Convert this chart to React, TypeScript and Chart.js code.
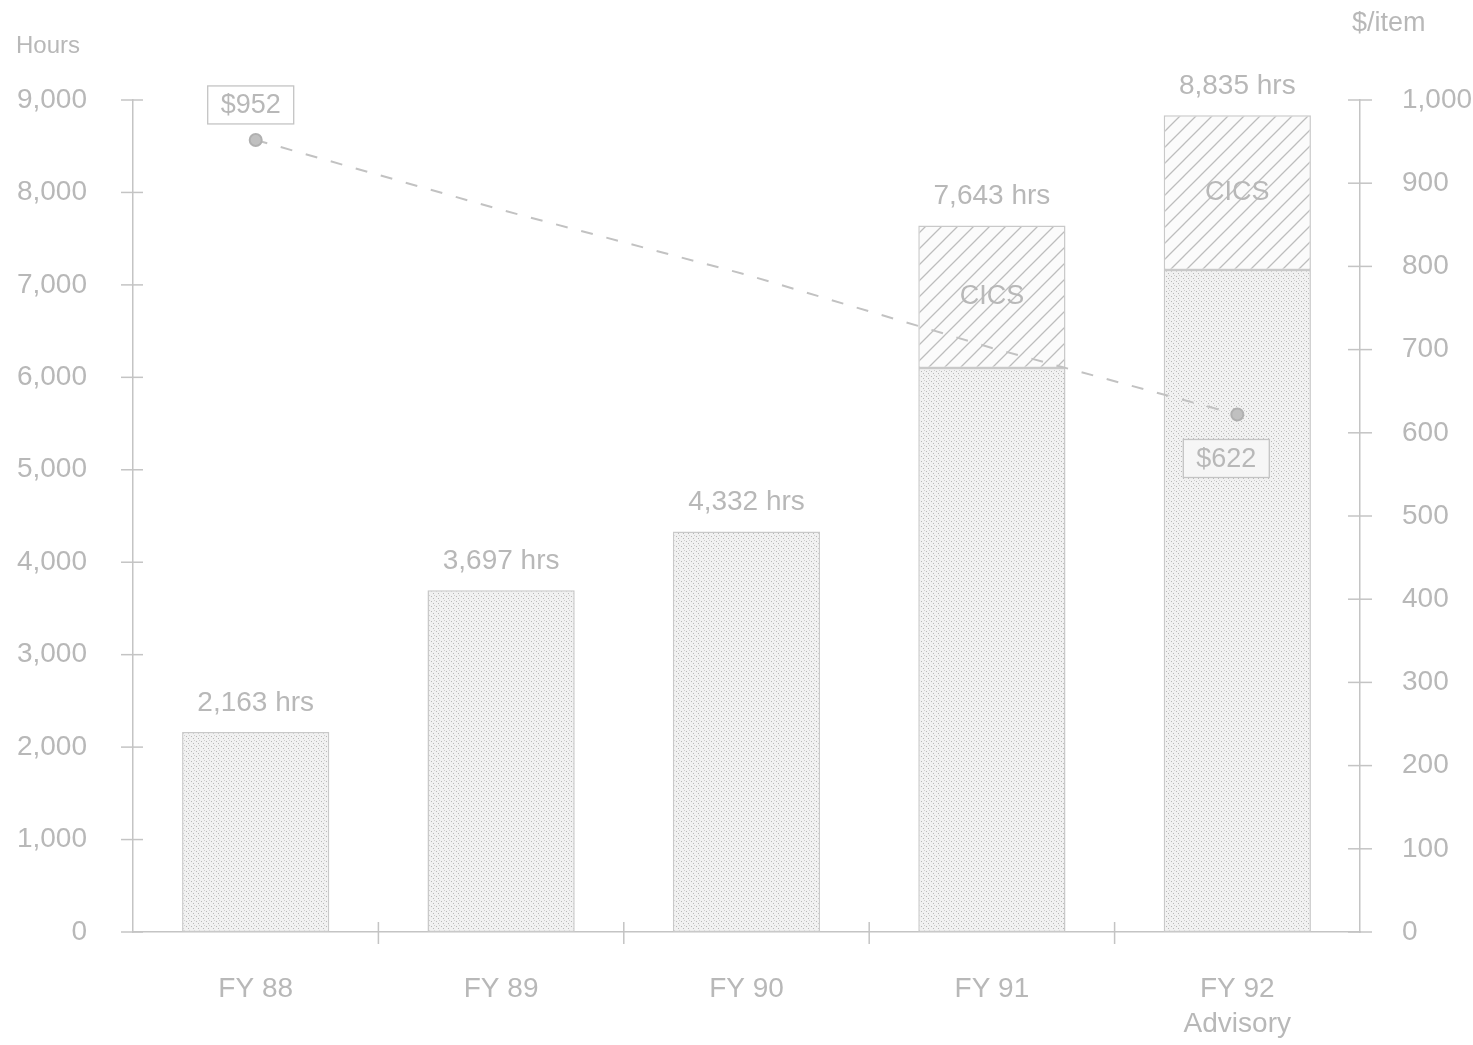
import React, { useEffect, useRef } from "react";
import { Chart, registerables } from "chart.js";

Chart.register(...registerables);

const categories: (string | string[])[] = ["FY 88", "FY 89", "FY 90", "FY 91", ["FY 92", "Advisory"]];
const baseHours: (number | null)[] = [2163, 3697, 4332, 6100, 7160];
const cicsHours: (number | null)[] = [null, null, null, 1543, 1675];
const costPerHour: number[] = [952, 868, 790, 702, 622];
const costLabels: string[] = ["$952", "", "", "", "$622"];
const leftTicksMax = 9000;
const rightTicksMax = 1000;
const leftTitle = "Hours";
const rightTitle = "$/item";

const TEXT = "#b8b8b8";
const LINE = "#c4c4c4";
const FONT = "'Liberation Sans', Arial, sans-serif";
const FS = 28;

function makeStipple(ctx: CanvasRenderingContext2D) {
  const c = document.createElement("canvas");
  c.width = 5;
  c.height = 5;
  const g = c.getContext("2d")!;
  g.fillStyle = "#f1f1f1";
  g.fillRect(0, 0, 5, 5);
  g.fillStyle = "#b8b8b8";
  g.fillRect(1, 1, 1, 1);
  g.fillRect(3, 3, 1, 1);
  g.fillStyle = "#d0d0d0";
  g.fillRect(4, 0, 1, 1);
  return ctx.createPattern(c, "repeat")!;
}

function makeHatch(ctx: CanvasRenderingContext2D) {
  const s = 16;
  const c = document.createElement("canvas");
  c.width = s;
  c.height = s;
  const g = c.getContext("2d")!;
  g.fillStyle = "#fbfbfb";
  g.fillRect(0, 0, s, s);
  g.strokeStyle = "#bdbdbd";
  g.lineWidth = 1.3;
  g.beginPath();
  g.moveTo(0, s);
  g.lineTo(s, 0);
  g.moveTo(-2, 2);
  g.lineTo(2, -2);
  g.moveTo(s - 2, s + 2);
  g.lineTo(s + 2, s - 2);
  g.stroke();
  return ctx.createPattern(c, "repeat")!;
}

const fmt = (v: number) => v.toLocaleString("en-US");

const decorPlugin = {
  id: "decor",
  afterDraw(chart: any) {
    const ctx: CanvasRenderingContext2D = chart.ctx;
    const x = chart.scales.x;
    const y = chart.scales.y;
    const y1 = chart.scales.y1;
    const area = chart.chartArea;
    ctx.save();
    ctx.strokeStyle = LINE;
    ctx.lineWidth = 1.5;
    y.ticks.forEach((t: any) => {
      const py = y.getPixelForValue(t.value);
      ctx.beginPath();
      ctx.moveTo(area.left - 12, py);
      ctx.lineTo(area.left + 10, py);
      ctx.stroke();
    });
    y1.ticks.forEach((t: any) => {
      const py = y1.getPixelForValue(t.value);
      ctx.beginPath();
      ctx.moveTo(area.right - 12, py);
      ctx.lineTo(area.right + 12, py);
      ctx.stroke();
    });
    for (let i = 0; i < categories.length - 1; i++) {
      const px = (x.getPixelForValue(i) + x.getPixelForValue(i + 1)) / 2;
      ctx.beginPath();
      ctx.moveTo(px, area.bottom - 10);
      ctx.lineTo(px, area.bottom + 12);
      ctx.stroke();
    }

    ctx.fillStyle = TEXT;
    ctx.textBaseline = "middle";
    ctx.textAlign = "left";
    ctx.font = `24px ${FONT}`;
    ctx.fillText(leftTitle, 16, 46);
    ctx.font = `27px ${FONT}`;
    ctx.fillText(rightTitle, 1352, 24);

    const baseMeta = chart.getDatasetMeta(1);
    const cicsMeta = chart.getDatasetMeta(2);
    ctx.textAlign = "center";
    categories.forEach((_, i) => {
      const total = (baseHours[i] || 0) + (cicsHours[i] || 0);
      const top = y.getPixelForValue(total);
      const px = baseMeta.data[i].x;
      ctx.font = `${FS}px ${FONT}`;
      ctx.fillText(`${fmt(total)} hrs`, px, top - 29);
      if (cicsHours[i]) {
        const el = cicsMeta.data[i];
        ctx.font = `27px ${FONT}`;
        ctx.fillText("CICS", el.x, (el.y + el.base) / 2);
      }
    });

    const lineMeta = chart.getDatasetMeta(0);
    costLabels.forEach((lab, i) => {
      if (!lab) return;
      const pt = lineMeta.data[i];
      const w = 86;
      const h = 38;
      let bx: number;
      let by: number;
      if (i === 0) {
        bx = pt.x - 48;
        by = pt.y - 54;
      } else {
        bx = pt.x - 54;
        by = pt.y + 25;
      }
      ctx.fillStyle = i === 0 ? "#ffffff" : "#f6f6f6";
      ctx.fillRect(bx, by, w, h);
      ctx.strokeStyle = LINE;
      ctx.lineWidth = 1.3;
      ctx.strokeRect(bx, by, w, h);
      ctx.fillStyle = TEXT;
      ctx.font = `27px ${FONT}`;
      ctx.fillText(lab, bx + w / 2, by + h / 2 + 1);
    });
    ctx.restore();
  },
};

export default function App() {
  const ref = useRef<HTMLCanvasElement | null>(null);
  useEffect(() => {
    const canvas = ref.current!;
    const ctx = canvas.getContext("2d")!;
    const stipple = makeStipple(ctx);
    const hatch = makeHatch(ctx);
    const chart = new Chart(ctx, {
      type: "bar",
      data: {
        labels: categories as any,
        datasets: [
          {
            type: "line",
            label: "Cost per hour",
            data: costPerHour,
            yAxisID: "y1",
            borderColor: "#c2c2c2",
            borderWidth: 2,
            borderDash: [12, 14],
            pointRadius: costLabels.map((l) => (l ? 6 : 0)),
            pointBackgroundColor: "#c0c0c0",
            pointBorderColor: "#b0b0b0",
            fill: false,
            tension: 0,
            order: 0,
          } as any,
          {
            label: "Hours",
            data: baseHours,
            backgroundColor: stipple,
            borderColor: "#c9c9c9",
            borderWidth: 1.5,
            borderSkipped: false,
            barPercentage: 0.6,
            categoryPercentage: 1,
            stack: "h",
            yAxisID: "y",
            order: 1,
          },
          {
            label: "CICS",
            data: cicsHours,
            backgroundColor: hatch,
            borderColor: "#c9c9c9",
            borderWidth: 1.5,
            borderSkipped: false,
            barPercentage: 0.6,
            categoryPercentage: 1,
            stack: "h",
            yAxisID: "y",
            order: 1,
          },
        ],
      },
      options: {
        animation: false,
        responsive: false,
        devicePixelRatio: 1,
        layout: { padding: { top: 100, left: 0, right: 0, bottom: 0 } },
        plugins: { legend: { display: false }, tooltip: { enabled: false } },
        scales: {
          x: {
            stacked: true,
            grid: { display: false },
            border: { display: true, color: LINE, width: 1.5 },
            ticks: {
              color: TEXT,
              padding: 32,
              font: { family: FONT, size: FS, lineHeight: 1.25 },
              maxRotation: 0,
            },
            afterFit: (s: any) => {
              s.height = 113;
            },
          },
          y: {
            stacked: true,
            position: "left",
            min: 0,
            max: leftTicksMax,
            grid: { display: false },
            border: { display: true, color: LINE, width: 1.5 },
            ticks: {
              stepSize: 1000,
              color: TEXT,
              padding: 38,
              font: { family: FONT, size: FS },
              callback: (v: any) => fmt(Number(v)),
            },
            afterFit: (s: any) => {
              s.width = 133;
            },
          },
          y1: {
            position: "right",
            min: 0,
            max: rightTicksMax,
            grid: { display: false },
            border: { display: true, color: LINE, width: 1.5 },
            ticks: {
              stepSize: 100,
              color: TEXT,
              padding: 34,
              font: { family: FONT, size: FS },
              callback: (v: any) => fmt(Number(v)),
            },
            afterFit: (s: any) => {
              s.width = 113;
            },
          },
        },
      },
      plugins: [decorPlugin],
    });
    return () => chart.destroy();
  }, []);
  return (
    <div style={{ position: "absolute", left: 0, top: 0, width: 1473, height: 1045, background: "#fff" }}>
      <canvas ref={ref} width={1473} height={1045} style={{ display: "block", width: 1473, height: 1045 }} />
    </div>
  );
}
